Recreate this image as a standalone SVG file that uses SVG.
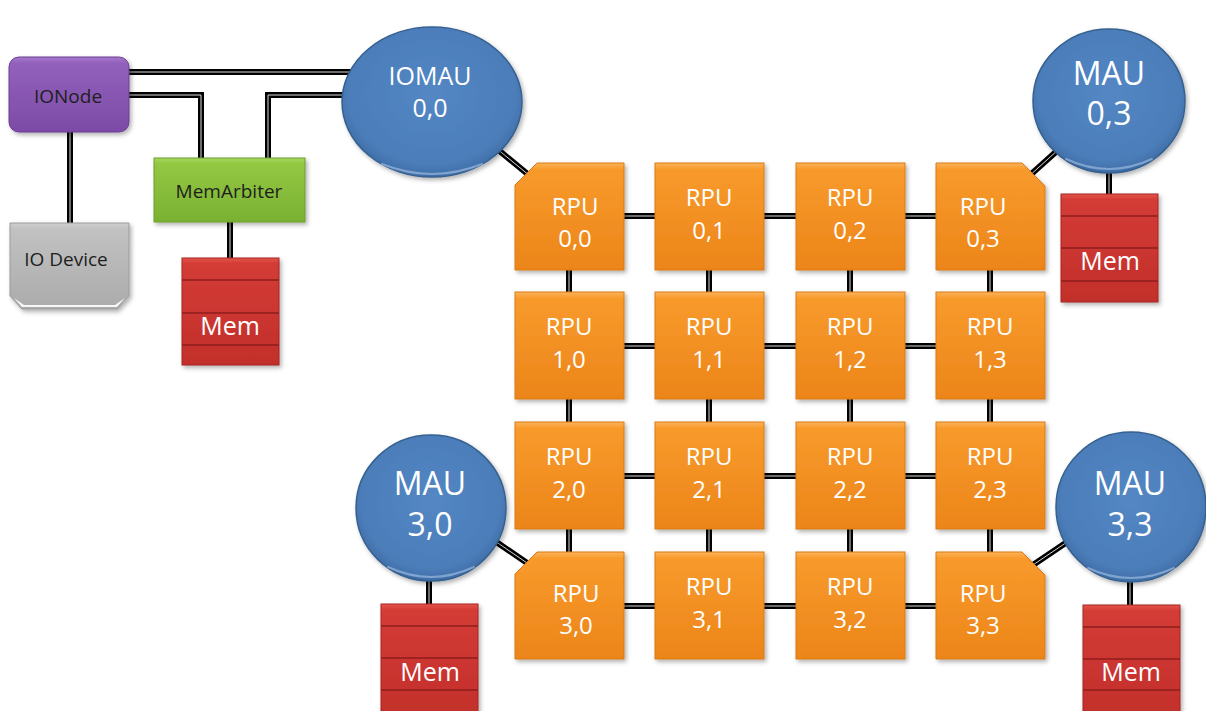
<svg xmlns="http://www.w3.org/2000/svg" xmlns:xlink="http://www.w3.org/1999/xlink" width="1206" height="711" viewBox="0 0 1206 711">
<defs>
<linearGradient id="gOr" x1="0" y1="0" x2="0" y2="1">
<stop offset="0" stop-color="#FCB35A"/><stop offset="0.06" stop-color="#F89A2C"/><stop offset="1" stop-color="#EC8519"/>
</linearGradient>
<linearGradient id="gRed" x1="0" y1="0" x2="0" y2="1">
<stop offset="0" stop-color="#E4544C"/><stop offset="0.05" stop-color="#D43C36"/><stop offset="1" stop-color="#C22F2B"/>
</linearGradient>
<linearGradient id="gPur" x1="0" y1="0" x2="0" y2="1">
<stop offset="0" stop-color="#A679CC"/><stop offset="0.08" stop-color="#9261BC"/><stop offset="1" stop-color="#7C4BA6"/>
</linearGradient>
<linearGradient id="gGrn" x1="0" y1="0" x2="0" y2="1">
<stop offset="0" stop-color="#A9D860"/><stop offset="0.08" stop-color="#93C843"/><stop offset="1" stop-color="#7AB132"/>
</linearGradient>
<linearGradient id="gGry" x1="0" y1="0" x2="0" y2="1">
<stop offset="0" stop-color="#D0D0D0"/><stop offset="0.06" stop-color="#C2C2C2"/><stop offset="1" stop-color="#ABABAB"/>
</linearGradient>
<radialGradient id="gBlu" cx="0.5" cy="0.45" r="0.55">
<stop offset="0" stop-color="#5387C4"/><stop offset="0.85" stop-color="#4B7DB9"/><stop offset="1" stop-color="#3F6DA6"/>
</radialGradient>
<filter id="sh" x="-15%" y="-15%" width="135%" height="135%">
<feDropShadow dx="2" dy="2.5" stdDeviation="2" flood-color="#000" flood-opacity="0.3"/>
</filter>
<style>
.rpu{fill:url(#gOr);stroke:#D97A14;stroke-width:1;filter:url(#sh)}
.mau{fill:url(#gBlu);stroke:#35608F;stroke-width:1.5;filter:url(#sh)}
.glint{fill:none;stroke:#B5CEEE;stroke-width:2;stroke-linecap:round;opacity:0.55}
.mem{fill:url(#gRed);stroke:#A52622;stroke-width:1;filter:url(#sh)}
.memline{stroke:#8E1E1B;stroke-width:1.5}
.wt{font-family:"Open Sans","Liberation Sans",sans-serif;fill:#FFFFFF;text-anchor:middle}
.dk{font-family:"Open Sans","Liberation Sans",sans-serif;fill:#1E1E1E;text-anchor:middle;font-size:19px}
.r{font-size:24px}
.m{font-size:32px}
.io{font-size:25px}
.mt{font-size:25px}
</style>
</defs>
<rect width="1206" height="711" fill="#FFFFFF"/>

<g id="connectors" fill="none" stroke-linecap="butt" stroke-linejoin="miter">
<g stroke="#000" stroke-width="6">
<g id="wires">
<path d="M125,72 H352"/>
<path d="M125,95 H201 V162"/>
<path d="M268,162 V95 H348"/>
<path d="M70,128 V226"/>
<path d="M230,218 V262"/>
<path d="M496,148 L530,176"/>
<path d="M1058,150 L1028,177"/>
<path d="M1109,168 V198"/>
<path d="M492,539 L530,565"/>
<path d="M429,578 V608"/>
<path d="M1070,540 L1030,567"/>
<path d="M1130,578 V609"/>
<path d="M569,216 H990"/>
<path d="M569,346 H990"/>
<path d="M569,476 H990"/>
<path d="M569,606 H990"/>
<path d="M569,216 V606"/>
<path d="M709,216 V606"/>
<path d="M850,216 V606"/>
<path d="M990,216 V606"/>
</g>
</g>
<use xlink:href="#wires" href="#wires" stroke="#D8D8D8" stroke-width="1"/>
</g>

<g id="ionode">
<rect x="9" y="57" width="120" height="75" rx="10" fill="url(#gPur)" stroke="#6A3D92" stroke-width="1" filter="url(#sh)"/>
<text class="dk" x="68" y="103">IONode</text>
</g>
<g id="iodevice">
<path d="M10,223 H129 V296 L117,309 H22 L10,296 Z" fill="url(#gGry)" stroke="#9A9A9A" stroke-width="1" filter="url(#sh)"/>
<path d="M14,298 L24,305 H115 L125,298 L117,307 H22 Z" fill="#FFFFFF" opacity="0.9"/>
<text class="dk" x="66" y="266">IO Device</text>
</g>
<g id="memarbiter">
<rect x="154" y="158" width="151" height="64" fill="url(#gGrn)" stroke="#6C9E2A" stroke-width="1" filter="url(#sh)"/>
<text class="dk" x="229" y="198">MemArbiter</text>
</g>
<g id="mem-arb">
<rect class="mem" x="182" y="258" width="97" height="107"/>
<path class="memline" d="M182,280 H279 M182,313 H279 M182,345 H279"/>
<text class="wt mt" x="230" y="335">Mem</text>
</g>

<g id="iomau">
<ellipse class="mau" cx="432" cy="102" rx="90" ry="75"/>
<path class="glint" d="M382,164 Q432,184 482,164"/>
<text class="wt io" x="430" y="85">IOMAU</text>
<text class="wt io" x="430" y="117">0,0</text>
</g>
<g id="mau03">
<ellipse class="mau" cx="1109" cy="101" rx="76" ry="72"/>
<path class="glint" d="M1066,159 Q1109,179 1152,159"/>
<text class="wt m" x="1109" y="85">MAU</text>
<text class="wt m" x="1109" y="125">0,3</text>
</g>
<g id="mau30">
<ellipse class="mau" cx="431" cy="508" rx="75" ry="73"/>
<path class="glint" d="M388,567 Q431,587 474,567"/>
<text class="wt m" x="430" y="495">MAU</text>
<text class="wt m" x="430" y="536">3,0</text>
</g>
<g id="mau33">
<ellipse class="mau" cx="1131" cy="507" rx="75" ry="75"/>
<path class="glint" d="M1088,568 Q1131,588 1174,568"/>
<text class="wt m" x="1130" y="495">MAU</text>
<text class="wt m" x="1130" y="536">3,3</text>
</g>

<g id="mem03">
<rect class="mem" x="1061" y="194" width="97" height="108"/>
<path class="memline" d="M1061,216 H1158 M1061,248 H1158 M1061,281 H1158"/>
<text class="wt mt" x="1110" y="270">Mem</text>
</g>
<g id="mem30">
<rect class="mem" x="381" y="604" width="97" height="112"/>
<path class="memline" d="M381,626 H478 M381,658 H478 M381,690 H478"/>
<text class="wt mt" x="430" y="681">Mem</text>
</g>
<g id="mem33">
<rect class="mem" x="1083" y="605" width="97" height="112"/>
<path class="memline" d="M1083,627 H1180 M1083,659 H1180 M1083,690 H1180"/>
<text class="wt mt" x="1131" y="681">Mem</text>
</g>

<g id="rpu00"><path class="rpu" d="M537,163 H624 V270 H515 V185 Z"/><text class="wt r" x="575" y="215">RPU</text><text class="wt r" x="575" y="247">0,0</text></g>
<g id="rpu01"><rect class="rpu" x="655" y="163" width="109" height="107"/><text class="wt r" x="709" y="206">RPU</text><text class="wt r" x="709" y="239">0,1</text></g>
<g id="rpu02"><rect class="rpu" x="796" y="163" width="109" height="107"/><text class="wt r" x="850" y="206">RPU</text><text class="wt r" x="850" y="239">0,2</text></g>
<g id="rpu03"><path class="rpu" d="M936,163 H1022 L1045,186 V270 H936 Z"/><text class="wt r" x="983" y="215">RPU</text><text class="wt r" x="983" y="247">0,3</text></g>

<g id="rpu10"><rect class="rpu" x="515" y="292" width="109" height="107"/><text class="wt r" x="569" y="335">RPU</text><text class="wt r" x="569" y="368">1,0</text></g>
<g id="rpu11"><rect class="rpu" x="655" y="292" width="109" height="107"/><text class="wt r" x="709" y="335">RPU</text><text class="wt r" x="709" y="368">1,1</text></g>
<g id="rpu12"><rect class="rpu" x="796" y="292" width="109" height="107"/><text class="wt r" x="850" y="335">RPU</text><text class="wt r" x="850" y="368">1,2</text></g>
<g id="rpu13"><rect class="rpu" x="936" y="292" width="109" height="107"/><text class="wt r" x="990" y="335">RPU</text><text class="wt r" x="990" y="368">1,3</text></g>

<g id="rpu20"><rect class="rpu" x="515" y="422" width="109" height="107"/><text class="wt r" x="569" y="465">RPU</text><text class="wt r" x="569" y="498">2,0</text></g>
<g id="rpu21"><rect class="rpu" x="655" y="422" width="109" height="107"/><text class="wt r" x="709" y="465">RPU</text><text class="wt r" x="709" y="498">2,1</text></g>
<g id="rpu22"><rect class="rpu" x="796" y="422" width="109" height="107"/><text class="wt r" x="850" y="465">RPU</text><text class="wt r" x="850" y="498">2,2</text></g>
<g id="rpu23"><rect class="rpu" x="936" y="422" width="109" height="107"/><text class="wt r" x="990" y="465">RPU</text><text class="wt r" x="990" y="498">2,3</text></g>

<g id="rpu30"><path class="rpu" d="M537,552 H624 V659 H515 V574 Z"/><text class="wt r" x="576" y="602">RPU</text><text class="wt r" x="576" y="634">3,0</text></g>
<g id="rpu31"><rect class="rpu" x="655" y="552" width="109" height="107"/><text class="wt r" x="709" y="595">RPU</text><text class="wt r" x="709" y="628">3,1</text></g>
<g id="rpu32"><rect class="rpu" x="796" y="552" width="109" height="107"/><text class="wt r" x="850" y="595">RPU</text><text class="wt r" x="850" y="628">3,2</text></g>
<g id="rpu33"><path class="rpu" d="M936,552 H1022 L1045,575 V659 H936 Z"/><text class="wt r" x="983" y="602">RPU</text><text class="wt r" x="983" y="634">3,3</text></g>
</svg>
